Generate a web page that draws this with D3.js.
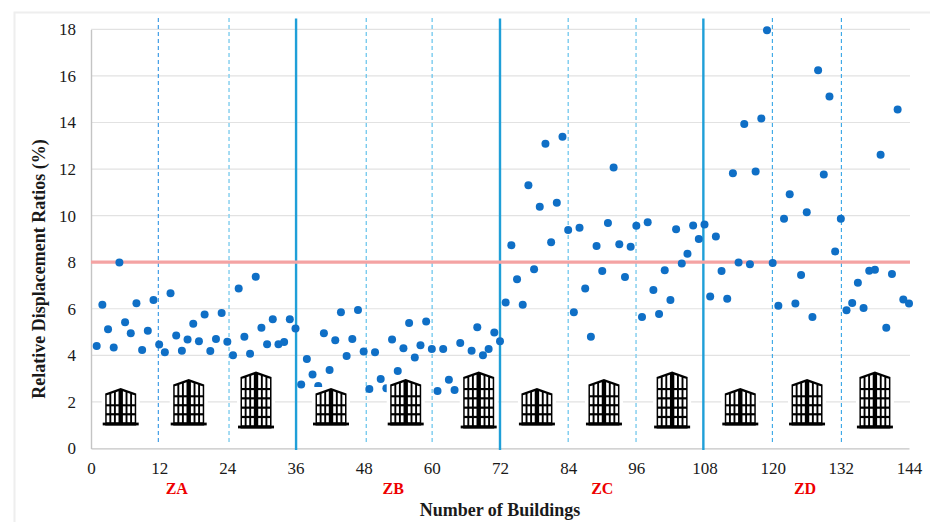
<!DOCTYPE html>
<html><head><meta charset="utf-8">
<script src="https://cdn.jsdelivr.net/npm/d3@7/dist/d3.min.js"></script>
<style>html,body{margin:0;padding:0;background:#fff}svg{display:block}text{font-family:"Liberation Serif",serif}</style>
</head><body><svg id="c" width="930" height="522"></svg>
<script>
const ratios=[4.40,6.17,5.12,4.33,7.99,5.42,4.95,6.24,4.23,5.05,6.37,4.46,4.13,6.67,4.85,4.20,4.68,5.35,4.60,5.75,4.18,4.70,5.82,4.58,4.00,6.87,4.80,4.07,7.37,5.18,4.47,5.55,4.47,4.57,5.55,5.15,
2.75,3.84,3.18,2.68,4.95,3.37,4.65,5.85,3.97,4.70,5.95,4.16,2.55,4.13,2.98,2.58,4.68,3.33,4.30,5.39,3.90,4.43,5.45,4.27,2.47,4.27,2.95,2.51,4.53,2.90,4.20,5.20,4.00,4.27,4.98,4.60,
6.27,8.73,7.27,6.17,11.30,7.70,10.38,13.09,8.86,10.55,13.39,9.38,5.85,9.48,6.87,4.80,8.69,7.62,9.68,12.07,8.77,7.36,8.66,9.56,5.65,9.71,6.81,5.77,7.65,6.37,9.41,7.94,8.36,9.58,9.00,9.62,
6.53,9.10,7.62,6.43,11.82,7.99,13.94,7.91,11.90,14.17,17.96,7.96,6.13,9.87,10.92,6.23,7.45,10.15,5.65,16.25,11.77,15.12,8.46,9.87,5.93,6.25,7.12,6.03,7.63,7.68,12.62,5.18,7.49,14.56,6.40,6.23];
const xTicks=[0,12,24,36,48,60,72,84,96,108,120,132,144];
const yTicks=[0,2,4,6,8,10,12,14,16,18];
const solidLines=[36.1,72,107.8];
const dashedLines=[11.85,24.3,48.45,60.05,84,95.95,119.95,132.1];
const dashedTones=["#2f94e4","#8fd3f0","#55bdea","#55bdea","#55bdea","#8fd3f0","#35a5e6","#35a5e6"];
const zoneNames=["ZA","ZB","ZC","ZD"];
const zoneCentres=[15.1,53.2,90,125.7];
const limitValue=8;
const buildingAt=[5.23,17.2,29.05,42.25,55.4,68.25,78.5,90.3,102.3,114.3,126.05,138];
const buildingFloors=[3,4,5,3,4,5,3,4,5,3,4,5];

const svg=d3.select("#c");
const x=d3.scaleLinear().domain([0,144]).range([91,909]);
const y=d3.scaleLinear().domain([0,18]).range([448.4,29.4]);
const serif='"Liberation Serif",serif';

// image frame
svg.append("path").attr("d","M14.5,522V12.5H930").attr("fill","none").attr("stroke","#eeeeee").attr("stroke-width",2);

// gridlines
svg.append("g").selectAll("line").data(yTicks.slice(1)).join("line")
 .attr("x1",x(0)).attr("x2",x(144)+1).attr("y1",d=>y(d)).attr("y2",d=>y(d))
 .attr("stroke","#e2e2e2").attr("stroke-width",1.2);

// axes
const gx=svg.append("g").attr("transform",`translate(0,${y(0)})`).call(d3.axisBottom(x).tickValues(xTicks).tickSize(0).tickPadding(14));
gx.select(".domain").attr("stroke","#c4c4c4").attr("stroke-width",1.4);
gx.selectAll("text").attr("font-size",17).attr("fill","#1a1a1a").style("font-family",serif);
const gy=svg.append("g").attr("transform",`translate(${x(0)},0)`).call(d3.axisLeft(y).tickValues(yTicks).tickSize(0).tickPadding(15));
gy.select(".domain").attr("stroke","#c4c4c4").attr("stroke-width",1.4);
gy.selectAll("text").attr("font-size",17).attr("fill","#1a1a1a").style("font-family",serif);

// zone separators
svg.append("g").selectAll("line").data(dashedLines).join("line")
 .attr("x1",d=>x(d)).attr("x2",d=>x(d)).attr("y1",18).attr("y2",445)
 .attr("stroke",(d,i)=>dashedTones[i]).attr("stroke-width",(d,i)=>dashedTones[i]==="#8fd3f0"?1.6:1.1).attr("stroke-dasharray","4 3");
svg.append("g").selectAll("line").data(solidLines).join("line")
 .attr("x1",d=>x(d)).attr("x2",d=>x(d)).attr("y1",18.5).attr("y2",y(0)+1.5)
 .attr("stroke","#1f9fd8").attr("stroke-width",2.4);

// limit line
svg.append("line").attr("x1",x(0)).attr("x2",x(144)+1).attr("y1",y(limitValue)).attr("y2",y(limitValue))
 .attr("stroke","#f4a3a3").attr("stroke-width",3.2);

// points
svg.append("g").selectAll("circle").data(ratios).join("circle")
 .attr("cx",(d,i)=>x(i+1)).attr("cy",d=>y(d)).attr("r",4).attr("fill","#0f6fc6");

// building icons, each on a white patch that hides what is behind it
const bw=31, slope=5.5, pillar=4.4, wall=1.5, gap=1.9, rowGap=2.2;
buildingAt.forEach((b,k)=>{
  const floors=buildingFloors[k];
  const cx=x(b), base=floors===5?428.4:425.4;
  const top=floors===3?388:floors===4?379:371.5;
  const barTop=base-2.8;
  const g=svg.append("g");
  g.append("rect").attr("x",cx-19).attr("y",top-1).attr("width",38).attr("height",base-top+3).attr("fill","#fff");
  g.append("path").attr("d",`M${cx-bw/2},${base}V${top+slope}L${cx},${top}L${cx+bw/2},${top+slope}V${base}Z`).attr("fill","#000");
  g.append("rect").attr("x",cx-18).attr("y",barTop).attr("width",36).attr("height",2.8).attr("fill","#000");
  const roof=px=>top+slope*Math.abs(px-cx)/(bw/2);
  const rowH=(barTop-(top+slope+2))/floors;
  const cols=3, side=(bw-pillar)/2, colW=(side-wall-gap*(cols-1))/cols;
  for(let r=0;r<floors;r++){
    const yb=barTop-0.4-r*rowH;
    for(const dir of [-1,1]) for(let c=0;c<cols;c++){
      const inner=pillar/2+c*(colW+gap);
      const x1=cx+dir*inner, x2=cx+dir*(inner+colW);
      const t1=r===floors-1?roof(x1)+2.4:yb-rowH+rowGap;
      const t2=r===floors-1?roof(x2)+2.4:yb-rowH+rowGap;
      g.append("path").attr("d",`M${x1},${yb}V${t1}L${x2},${t2}V${yb}Z`).attr("fill","#fff");
    }
  }
});

// zone labels
svg.append("g").selectAll("text").data(zoneNames).join("text")
 .attr("x",(d,i)=>x(zoneCentres[i])).attr("y",493.5).attr("text-anchor","middle")
 .attr("font-size",16).attr("font-weight","bold").attr("fill","#ee0000").text(d=>d);

// titles
svg.append("text").attr("x",500).attr("y",516).attr("text-anchor","middle").attr("font-size",18).attr("font-weight","bold").attr("fill","#1a1a1a").text("Number of Buildings");
svg.append("text").attr("transform","translate(45,269) rotate(-90)").attr("text-anchor","middle").attr("font-size",18).attr("font-weight","bold").attr("fill","#1a1a1a").text("Relative Displacement Ratios (%)");
</script></body></html>
